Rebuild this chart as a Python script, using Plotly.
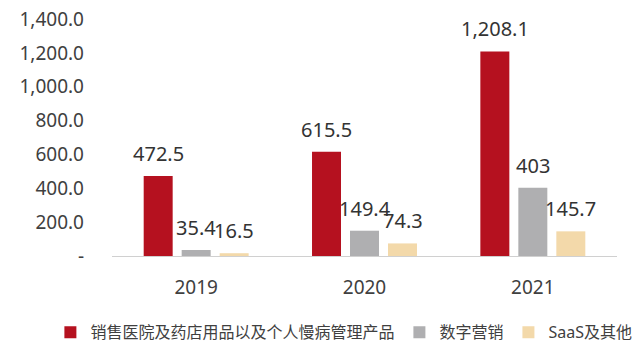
import plotly.graph_objects as go

years = ["2019", "2020", "2021"]
series_names = ["销售医院及药店用品以及个人慢病管理产品", "数字营销", "SaaS及其他"]
sales = [472.5, 615.5, 1208.1]
marketing = [35.4, 149.4, 403]
saas = [16.5, 74.3, 145.7]
sales_labels = ["472.5", "615.5", "1,208.1"]
marketing_labels = ["35.4", "149.4", "403"]
saas_labels = ["16.5", "74.3", "145.7"]
tick_vals = [0, 200, 400, 600, 800, 1000, 1200, 1400]
tick_text = ["-", "200.0", "400.0", "600.0", "800.0", "1,000.0", "1,200.0", "1,400.0"]

colors = ["#B5111F", "#AFAFB1", "#F3D9AA"]
FONT = "Noto Sans, Noto Sans CJK SC, sans-serif"

fig = go.Figure()
all_vals = [sales, marketing, saas]
all_labels = [sales_labels, marketing_labels, saas_labels]
for name, vals, col in zip(series_names, all_vals, colors):
    fig.add_trace(go.Bar(x=years, y=vals, name=name, marker=dict(color=col, line=dict(width=0))))

# data labels above bars (x given as category index)
slot = 38
for i, (vals, labs) in enumerate(zip(all_vals, all_labels)):
    for j, (v, t) in enumerate(zip(vals, labs)):
        fig.add_annotation(x=j, y=v, text=t, showarrow=False, xshift=(i - 1) * slot,
                           yanchor="bottom", yshift=7,
                           font=dict(size=20, color="#333333", family=FONT))

fig.update_layout(
    width=640, height=349,
    margin=dict(l=112, r=23, t=19, b=93, autoexpand=False),
    paper_bgcolor="white", plot_bgcolor="white",
    barmode="group", bargap=0.323, bargroupgap=0.237,
    font=dict(family=FONT, color="#404040"),
    showlegend=True,
    legend=dict(orientation="h", x=-0.122, xanchor="left", y=-0.25, yanchor="top",
                font=dict(size=16, color="#404040", family=FONT),
                itemwidth=30, tracegroupgap=0),
    xaxis=dict(type="category", showline=True, linecolor="#D0D0D0", linewidth=1, ticks="",
               tickfont=dict(size=19, color="#404040"), ticklabelstandoff=14),
    yaxis=dict(range=[0, 1400], tickvals=tick_vals, ticktext=tick_text,
               showgrid=False, zeroline=False, showline=False,
               tickfont=dict(size=19, color="#404040"), ticklabelstandoff=27),
)

fig.write_html("out.html")
